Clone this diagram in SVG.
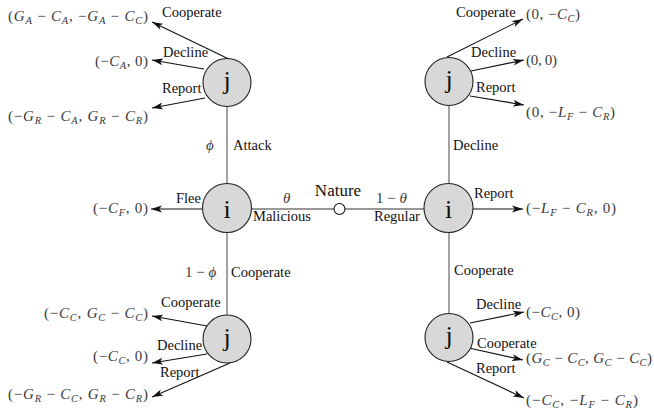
<svg xmlns="http://www.w3.org/2000/svg" width="654" height="418" viewBox="0 0 654 418">
<style>
text{font-family:"Liberation Serif","DejaVu Serif",serif;}
.l{font-size:14.5px;fill:#111}
.m{font-size:15px;fill:#3a3a3a}
.i{font-style:italic}
.s{font-size:10.5px;font-style:italic}
.n{fill:#d8d8d8;stroke:#222;stroke-width:1.1}
.nt{font-size:26px;fill:#111;text-anchor:middle}
.v{stroke:#666;stroke-width:1.2;fill:none}
.h{stroke:#333;stroke-width:1.2;fill:none}
.a{stroke:#111;stroke-width:1.1;fill:none;marker-end:url(#ah)}
</style>
<defs>
<marker id="ah" markerUnits="userSpaceOnUse" markerWidth="12" markerHeight="8" refX="11" refY="4" orient="auto">
<path d="M0,0.6 L11,4 L0,7.4 L2.8,4 Z" fill="#111"/>
</marker>
</defs>
<rect width="654" height="418" fill="#fff"/>
<g id="connectors">
<line class="v" x1="227" y1="106" x2="227" y2="184"/>
<line class="v" x1="227" y1="233" x2="227" y2="315"/>
<line class="v" x1="449" y1="105" x2="449" y2="184"/>
<line class="v" x1="449" y1="232" x2="449" y2="313"/>
<line class="h" x1="251" y1="209" x2="334" y2="209"/>
<line class="h" x1="345" y1="209" x2="424" y2="209"/>
<line class="a" x1="235" y1="62" x2="152" y2="22"/>
<line class="a" x1="204" y1="69" x2="152" y2="60"/>
<line class="a" x1="205" y1="98" x2="152" y2="108"/>
<line class="a" x1="447" y1="57" x2="523" y2="19"/>
<line class="a" x1="471" y1="71" x2="524" y2="60"/>
<line class="a" x1="470" y1="96" x2="524" y2="105"/>
<line class="a" x1="203" y1="209" x2="151" y2="209"/>
<line class="a" x1="473" y1="209" x2="523" y2="209"/>
<line class="a" x1="207" y1="326" x2="152" y2="316"/>
<line class="a" x1="207" y1="354" x2="152" y2="363"/>
<line class="a" x1="230" y1="363" x2="152" y2="397"/>
<line class="a" x1="470" y1="323" x2="524" y2="312"/>
<line class="a" x1="469" y1="348" x2="523" y2="360"/>
<line class="a" x1="447" y1="362" x2="524" y2="398"/>
</g>
<g id="nature">
<circle cx="339.5" cy="209" r="5.5" fill="#fff" stroke="#111" stroke-width="1.1"/>
<text x="338" y="196" font-size="17" fill="#111" text-anchor="middle">Nature</text>
</g>
<g id="i-left">
<circle class="n" cx="227" cy="208" r="24.5"/>
<text class="nt" x="227" y="217.5">i</text>
</g>
<g id="i-right">
<circle class="n" cx="448.5" cy="208" r="24.5"/>
<text class="nt" x="448.5" y="217.5">i</text>
</g>
<g id="j-top-left">
<circle class="n" cx="227" cy="82.5" r="24"/>
<text class="nt" x="227" y="89">j</text>
</g>
<g id="j-top-right">
<circle class="n" cx="449" cy="81.5" r="24"/>
<text class="nt" x="449" y="88">j</text>
</g>
<g id="j-bottom-left">
<circle class="n" cx="227" cy="339" r="24"/>
<text class="nt" x="227" y="345.5">j</text>
</g>
<g id="j-bottom-right">
<circle class="n" cx="449" cy="337.5" r="24"/>
<text class="nt" x="449" y="344">j</text>
</g>
<g id="labels">
<text class="l" x="162" y="17">Cooperate</text>
<text class="l" x="163" y="57">Decline</text>
<text class="l" x="162" y="93">Report</text>
<text class="l" x="456" y="17">Cooperate</text>
<text class="l" x="471" y="57">Decline</text>
<text class="l" x="476" y="92">Report</text>
<text class="m i" x="206" y="150">ϕ</text>
<text class="l" x="233" y="150">Attack</text>
<text class="l" x="453" y="150">Decline</text>
<text class="l" x="176" y="203">Flee</text>
<text class="m i" x="283" y="203">θ</text>
<text class="l" x="253" y="221">Malicious</text>
<text class="m" x="376" y="203">1 − <tspan class="i">θ</tspan></text>
<text class="l" x="374" y="221">Regular</text>
<text class="l" x="474" y="198">Report</text>
<text class="m" x="185" y="277">1 − <tspan class="i">ϕ</tspan></text>
<text class="l" x="231" y="277">Cooperate</text>
<text class="l" x="454" y="275">Cooperate</text>
<text class="l" x="161" y="307">Cooperate</text>
<text class="l" x="157" y="350">Decline</text>
<text class="l" x="160" y="377">Report</text>
<text class="l" x="476" y="309">Decline</text>
<text class="l" x="477" y="348">Cooperate</text>
<text class="l" x="476" y="373">Report</text>
</g>
<g id="payoffs">
<text class="m" x="148" y="21" text-anchor="end" textLength="140" lengthAdjust="spacing">(<tspan class="i">G</tspan><tspan class="s" dy="3">A</tspan><tspan dy="-3"> − </tspan><tspan class="i">C</tspan><tspan class="s" dy="3">A</tspan><tspan dy="-3">, −</tspan><tspan class="i">G</tspan><tspan class="s" dy="3">A</tspan><tspan dy="-3"> − </tspan><tspan class="i">C</tspan><tspan class="s" dy="3">C</tspan><tspan dy="-3">)</tspan></text>
<text class="m" x="148" y="66" text-anchor="end" textLength="53" lengthAdjust="spacing">(−<tspan class="i">C</tspan><tspan class="s" dy="3">A</tspan><tspan dy="-3">, 0)</tspan></text>
<text class="m" x="148" y="121" text-anchor="end" textLength="140" lengthAdjust="spacing">(−<tspan class="i">G</tspan><tspan class="s" dy="3">R</tspan><tspan dy="-3"> − </tspan><tspan class="i">C</tspan><tspan class="s" dy="3">A</tspan><tspan dy="-3">, </tspan><tspan class="i">G</tspan><tspan class="s" dy="3">R</tspan><tspan dy="-3"> − </tspan><tspan class="i">C</tspan><tspan class="s" dy="3">R</tspan><tspan dy="-3">)</tspan></text>
<text class="m" x="526" y="19" textLength="54" lengthAdjust="spacing">(0, −<tspan class="i">C</tspan><tspan class="s" dy="3">C</tspan><tspan dy="-3">)</tspan></text>
<text class="m" x="526" y="65" textLength="31" lengthAdjust="spacing">(0, 0)</text>
<text class="m" x="526" y="117" textLength="89" lengthAdjust="spacing">(0, −<tspan class="i">L</tspan><tspan class="s" dy="3">F</tspan><tspan dy="-3"> − </tspan><tspan class="i">C</tspan><tspan class="s" dy="3">R</tspan><tspan dy="-3">)</tspan></text>
<text class="m" x="148" y="213" text-anchor="end" textLength="55" lengthAdjust="spacing">(−<tspan class="i">C</tspan><tspan class="s" dy="3">F</tspan><tspan dy="-3">, 0)</tspan></text>
<text class="m" x="526" y="213" textLength="90" lengthAdjust="spacing">(−<tspan class="i">L</tspan><tspan class="s" dy="3">F</tspan><tspan dy="-3"> − </tspan><tspan class="i">C</tspan><tspan class="s" dy="3">R</tspan><tspan dy="-3">, 0)</tspan></text>
<text class="m" x="148" y="318" text-anchor="end" textLength="104" lengthAdjust="spacing">(−<tspan class="i">C</tspan><tspan class="s" dy="3">C</tspan><tspan dy="-3">, </tspan><tspan class="i">G</tspan><tspan class="s" dy="3">C</tspan><tspan dy="-3"> − </tspan><tspan class="i">C</tspan><tspan class="s" dy="3">C</tspan><tspan dy="-3">)</tspan></text>
<text class="m" x="148" y="361" text-anchor="end" textLength="55" lengthAdjust="spacing">(−<tspan class="i">C</tspan><tspan class="s" dy="3">C</tspan><tspan dy="-3">, 0)</tspan></text>
<text class="m" x="148" y="399" text-anchor="end" textLength="140" lengthAdjust="spacing">(−<tspan class="i">G</tspan><tspan class="s" dy="3">R</tspan><tspan dy="-3"> − </tspan><tspan class="i">C</tspan><tspan class="s" dy="3">C</tspan><tspan dy="-3">, </tspan><tspan class="i">G</tspan><tspan class="s" dy="3">R</tspan><tspan dy="-3"> − </tspan><tspan class="i">C</tspan><tspan class="s" dy="3">R</tspan><tspan dy="-3">)</tspan></text>
<text class="m" x="526" y="317" textLength="54" lengthAdjust="spacing">(−<tspan class="i">C</tspan><tspan class="s" dy="3">C</tspan><tspan dy="-3">, 0)</tspan></text>
<text class="m" x="526" y="363" textLength="126" lengthAdjust="spacing">(<tspan class="i">G</tspan><tspan class="s" dy="3">C</tspan><tspan dy="-3"> − </tspan><tspan class="i">C</tspan><tspan class="s" dy="3">C</tspan><tspan dy="-3">, </tspan><tspan class="i">G</tspan><tspan class="s" dy="3">C</tspan><tspan dy="-3"> − </tspan><tspan class="i">C</tspan><tspan class="s" dy="3">C</tspan><tspan dy="-3">)</tspan></text>
<text class="m" x="526" y="405" textLength="112" lengthAdjust="spacing">(−<tspan class="i">C</tspan><tspan class="s" dy="3">C</tspan><tspan dy="-3">, −</tspan><tspan class="i">L</tspan><tspan class="s" dy="3">F</tspan><tspan dy="-3"> − </tspan><tspan class="i">C</tspan><tspan class="s" dy="3">R</tspan><tspan dy="-3">)</tspan></text>
</g>
</svg>
